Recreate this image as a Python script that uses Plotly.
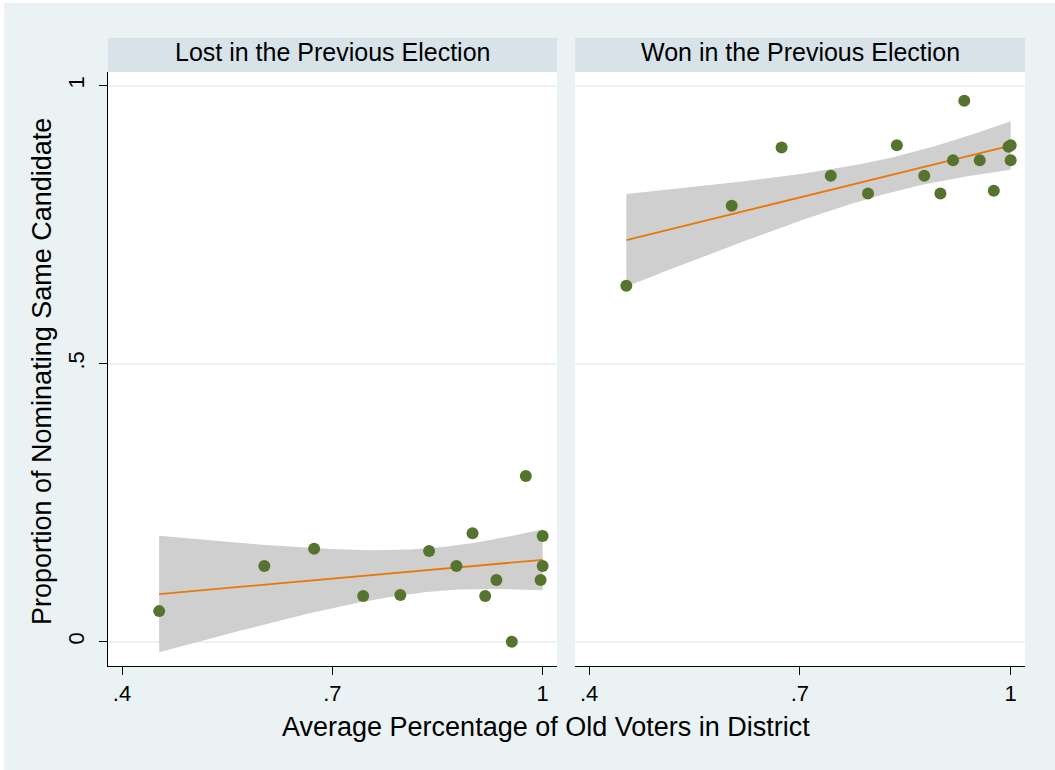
import numpy as np
import plotly.graph_objects as go

# District-level data: share of old voters and share re-nominating the same candidate
old_voters = [0.453, 0.603, 0.674, 0.744, 0.797, 0.838, 0.877, 0.900,
              0.918, 0.934, 0.956, 0.976, 0.997, 1.000, 1.000]
same_lost = [0.055, 0.136, 0.167, 0.082, 0.084, 0.163, 0.136, 0.195,
             0.082, 0.111, 0.000, 0.298, 0.111, 0.190, 0.136]
same_won = [0.640, 0.784, 0.889, 0.838, 0.806, 0.893, 0.838, 0.806,
            0.866, 0.973, 0.866, 0.811, 0.890, 0.893, 0.866]

panel_titles = ["Lost in the Previous Election", "Won in the Previous Election"]
x_tick_vals = [0.4, 0.7, 1.0]
x_tick_text = [".4", ".7", "1"]
y_tick_vals = [0, 0.5, 1.0]
y_tick_text = ["0", ".5", "1"]

BG = "#eaf2f3"
STRIP = "#d8e3e9"
GREEN = "#55752f"
ORANGE = "#e8780c"
BAND = "#cfcfcf"
FONT = "Liberation Sans, Arial, sans-serif"

T975_DF13 = 2.1604  # Student t quantile for a 95% interval, n-2 = 13 df


def linear_fit_ci(x, y, n_grid=120):
    x = np.asarray(x, float)
    y = np.asarray(y, float)
    n = len(x)
    xm, ym = x.mean(), y.mean()
    sxx = ((x - xm) ** 2).sum()
    b = ((x - xm) * (y - ym)).sum() / sxx
    a = ym - b * xm
    resid = y - (a + b * x)
    s = np.sqrt((resid ** 2).sum() / (n - 2))
    g = np.linspace(x.min(), x.max(), n_grid)
    fit = a + b * g
    se = s * np.sqrt(1.0 / n + (g - xm) ** 2 / sxx)
    return g, fit, fit - T975_DF13 * se, fit + T975_DF13 * se


fig = go.Figure()

for i, ys in enumerate([same_lost, same_won]):
    xa = "x" if i == 0 else "x2"
    ya = "y" if i == 0 else "y2"
    g, fit, lo, hi = linear_fit_ci(old_voters, ys)
    fig.add_trace(go.Scatter(
        x=np.concatenate([g, g[::-1]]), y=np.concatenate([hi, lo[::-1]]),
        fill="toself", fillcolor=BAND, line=dict(width=0),
        mode="lines", hoverinfo="skip", showlegend=False, xaxis=xa, yaxis=ya))
    fig.add_trace(go.Scatter(
        x=g, y=fit, mode="lines", line=dict(color=ORANGE, width=1.8),
        showlegend=False, xaxis=xa, yaxis=ya))
    fig.add_trace(go.Scatter(
        x=old_voters, y=ys, mode="markers",
        marker=dict(color=GREEN, size=12, line=dict(width=0)),
        showlegend=False, xaxis=xa, yaxis=ya))

x_common = dict(range=[0.38, 1.0204], tickvals=x_tick_vals, ticktext=x_tick_text,
                ticks="outside", ticklen=8, tickwidth=1, tickcolor="black",
                showline=True, linecolor="black", linewidth=1,
                showgrid=False, zeroline=False,
                tickfont=dict(family=FONT, size=22, color="black"))

fig.update_layout(
    width=1055, height=770,
    margin=dict(l=108, r=30, t=72, b=104),
    paper_bgcolor=BG, plot_bgcolor="white",
    font=dict(family=FONT, color="black"),
    xaxis=dict(domain=[0, 0.4896], **x_common),
    xaxis2=dict(domain=[0.5093, 1], **x_common),
    yaxis=dict(range=[-0.0437, 1.0246], tickvals=y_tick_vals, ticktext=y_tick_text,
               tickangle=-90, ticks="outside", ticklen=8, tickwidth=1,
               tickcolor="black", showline=True, linecolor="black", linewidth=1,
               showgrid=True, gridcolor=BG, gridwidth=1.5, zeroline=False,
               ticklabelstandoff=6,
               tickfont=dict(family=FONT, size=22, color="black")),
    yaxis2=dict(range=[-0.0437, 1.0246], tickvals=y_tick_vals, anchor="x2",
                showticklabels=False, ticks="", showline=False,
                showgrid=True, gridcolor=BG, gridwidth=1.5, zeroline=False),
)

# Panel header strips
strip_h = 34 / 594
for i, title in enumerate(panel_titles):
    xr = "x domain" if i == 0 else "x2 domain"
    yr = "y domain" if i == 0 else "y2 domain"
    fig.add_shape(type="rect", xref=xr, yref=yr, x0=0, x1=1, y0=1, y1=1 + strip_h,
                  fillcolor=STRIP, line=dict(width=0), layer="below")
    fig.add_annotation(xref=xr, yref=yr, x=0.5, y=1 + strip_h / 2, yshift=3,
                       text=title, showarrow=False, xanchor="center",
                       yanchor="middle",
                       font=dict(family=FONT, size=25, color="black"))

# Shared axis titles
fig.add_annotation(xref="paper", yref="paper", x=(546 - 108) / 917,
                   y=-(727 - 666) / 594, text="Average Percentage of Old Voters in District",
                   showarrow=False, xanchor="center", yanchor="middle",
                   font=dict(family=FONT, size=27, color="black"))
fig.add_annotation(xref="paper", yref="paper", x=-(108 - 42) / 917,
                   y=(666 - 372) / 594, text="Proportion of Nominating Same Candidate",
                   textangle=-90, showarrow=False, xanchor="center", yanchor="middle",
                   font=dict(family=FONT, size=27, color="black"))

# Thin white frame along the top and left edges of the graph region
fig.add_shape(type="rect", xref="paper", yref="paper",
              x0=-108 / 917, x1=(4 - 108) / 917, y0=-104 / 594, y1=698 / 594,
              fillcolor="white", line=dict(width=0), layer="below")
fig.add_shape(type="rect", xref="paper", yref="paper",
              x0=-108 / 917, x1=947 / 917, y0=(666 - 3) / 594, y1=698 / 594,
              fillcolor="white", line=dict(width=0), layer="below")

fig.write_html("out.html")
